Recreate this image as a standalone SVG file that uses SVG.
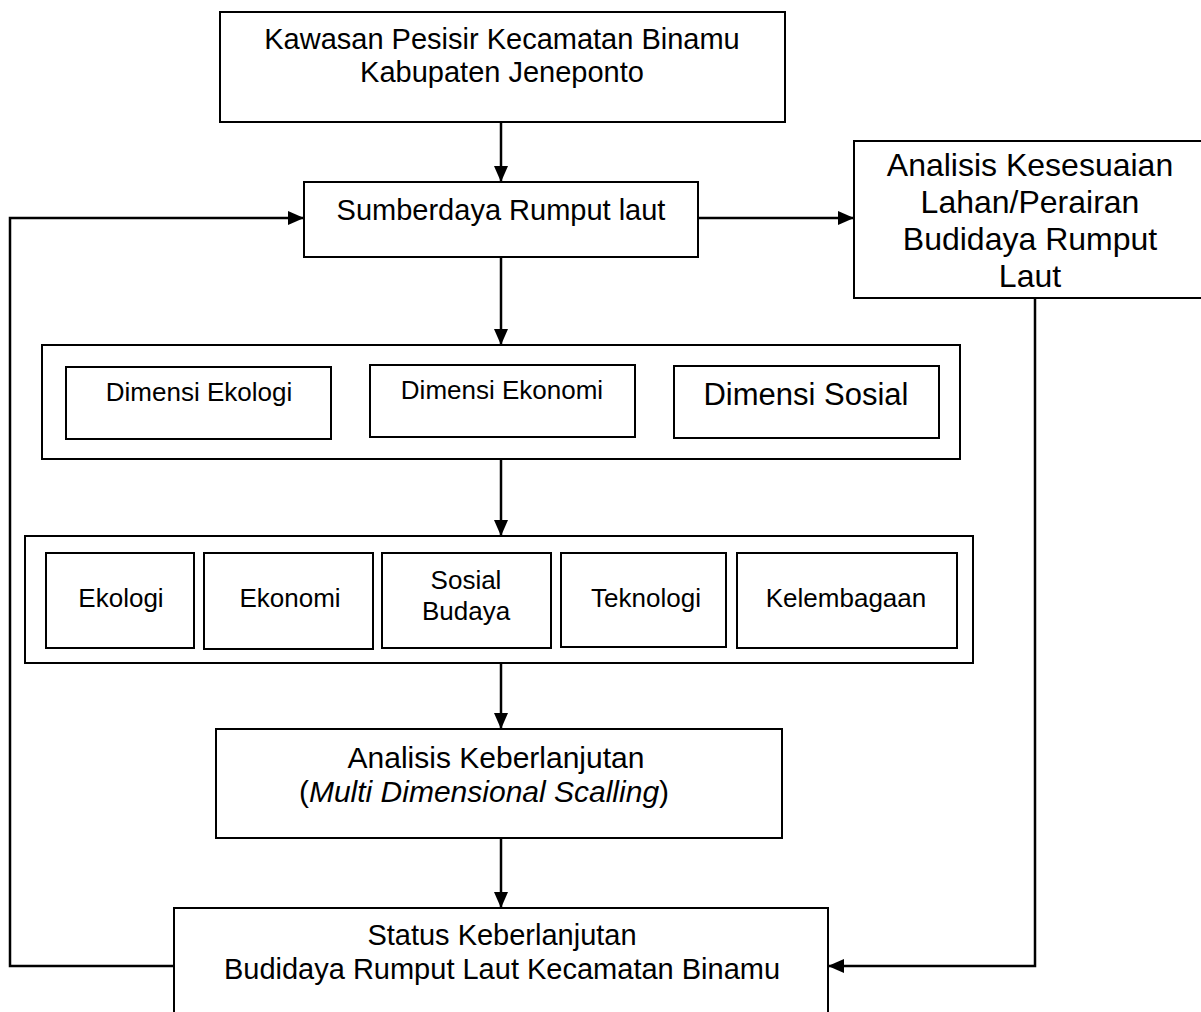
<svg xmlns="http://www.w3.org/2000/svg" width="1201" height="1012" viewBox="0 0 1201 1012">
<defs>
<marker id="ah" markerUnits="userSpaceOnUse" markerWidth="16" markerHeight="14" refX="16" refY="7" orient="auto">
<path d="M0,0 L16,7 L0,14 Z" fill="#000"/>
</marker>
<style>
.box{fill:#fff;stroke:#000;stroke-width:2}
.t{font-family:"Liberation Sans",Arial,sans-serif;fill:#000;text-anchor:middle}
.L{font-size:29px}
.XL{font-size:32px}
.S{font-size:26px}
.c{fill:none;stroke:#000;stroke-width:2.5}
</style>
</defs>
<rect width="1201" height="1012" fill="#fff"/>
<g id="connectors">
<path class="c" d="M501,122 V182" marker-end="url(#ah)"/>
<path class="c" d="M698,218 H854" marker-end="url(#ah)"/>
<path class="c" d="M501,257 V345" marker-end="url(#ah)"/>
<path class="c" d="M501,459 V536" marker-end="url(#ah)"/>
<path class="c" d="M501,663 V729" marker-end="url(#ah)"/>
<path class="c" d="M501,838 V908" marker-end="url(#ah)"/>
<path class="c" d="M1035,298 V966 H828" marker-end="url(#ah)"/>
<path class="c" d="M174,966 H10 V218 H304" marker-end="url(#ah)"/>
</g>
<g id="n-kawasan">
<rect class="box" x="220" y="12" width="565" height="110"/>
<text class="t L" x="502" y="49">Kawasan Pesisir Kecamatan Binamu</text>
<text class="t L" x="502" y="82">Kabupaten Jeneponto</text>
</g>
<g id="n-sumberdaya">
<rect class="box" x="304" y="182" width="394" height="75"/>
<text class="t L" x="501" y="220">Sumberdaya Rumput laut</text>
</g>
<g id="n-kesesuaian">
<rect class="box" x="854" y="141" width="360" height="157"/>
<text class="t XL" x="1030" y="176">Analisis Kesesuaian</text>
<text class="t XL" x="1030" y="213">Lahan/Perairan</text>
<text class="t XL" x="1030" y="250">Budidaya Rumput</text>
<text class="t XL" x="1030" y="287">Laut</text>
</g>
<g id="n-dimensi">
<rect class="box" x="42" y="345" width="918" height="114"/>
<g id="n-dim-ekologi">
<rect class="box" x="66" y="367" width="265" height="72"/>
<text class="t S" x="199" y="401">Dimensi Ekologi</text>
</g>
<g id="n-dim-ekonomi">
<rect class="box" x="370" y="365" width="265" height="72"/>
<text class="t S" x="502" y="399">Dimensi Ekonomi</text>
</g>
<g id="n-dim-sosial">
<rect class="box" x="674" y="366" width="265" height="72"/>
<text class="t" style="font-size:31px" x="806" y="405">Dimensi Sosial</text>
</g>
</g>
<g id="n-atribut">
<rect class="box" x="25" y="536" width="948" height="127"/>
<g id="n-ekologi">
<rect class="box" x="46" y="553" width="148" height="95"/>
<text class="t S" x="121" y="607">Ekologi</text>
</g>
<g id="n-ekonomi">
<rect class="box" x="204" y="553" width="169" height="96"/>
<text class="t S" x="290" y="607">Ekonomi</text>
</g>
<g id="n-sosbud">
<rect class="box" x="382" y="553" width="169" height="95"/>
<text class="t S" x="466" y="589">Sosial</text>
<text class="t S" x="466" y="620">Budaya</text>
</g>
<g id="n-teknologi">
<rect class="box" x="561" y="553" width="165" height="94"/>
<text class="t S" x="646" y="607">Teknologi</text>
</g>
<g id="n-kelembagaan">
<rect class="box" x="737" y="553" width="220" height="95"/>
<text class="t S" x="846" y="607">Kelembagaan</text>
</g>
</g>
<g id="n-analisis">
<rect class="box" x="216" y="729" width="566" height="109"/>
<text class="t" style="font-size:30px" x="496" y="768">Analisis Keberlanjutan</text>
<text class="t" style="font-size:30px" x="484" y="802">(<tspan font-style="italic">Multi Dimensional Scalling</tspan>)</text>
</g>
<g id="n-status">
<rect class="box" x="174" y="908" width="654" height="120"/>
<text class="t L" x="502" y="945">Status Keberlanjutan</text>
<text class="t L" x="502" y="979">Budidaya Rumput Laut Kecamatan Binamu</text>
</g>
</svg>
